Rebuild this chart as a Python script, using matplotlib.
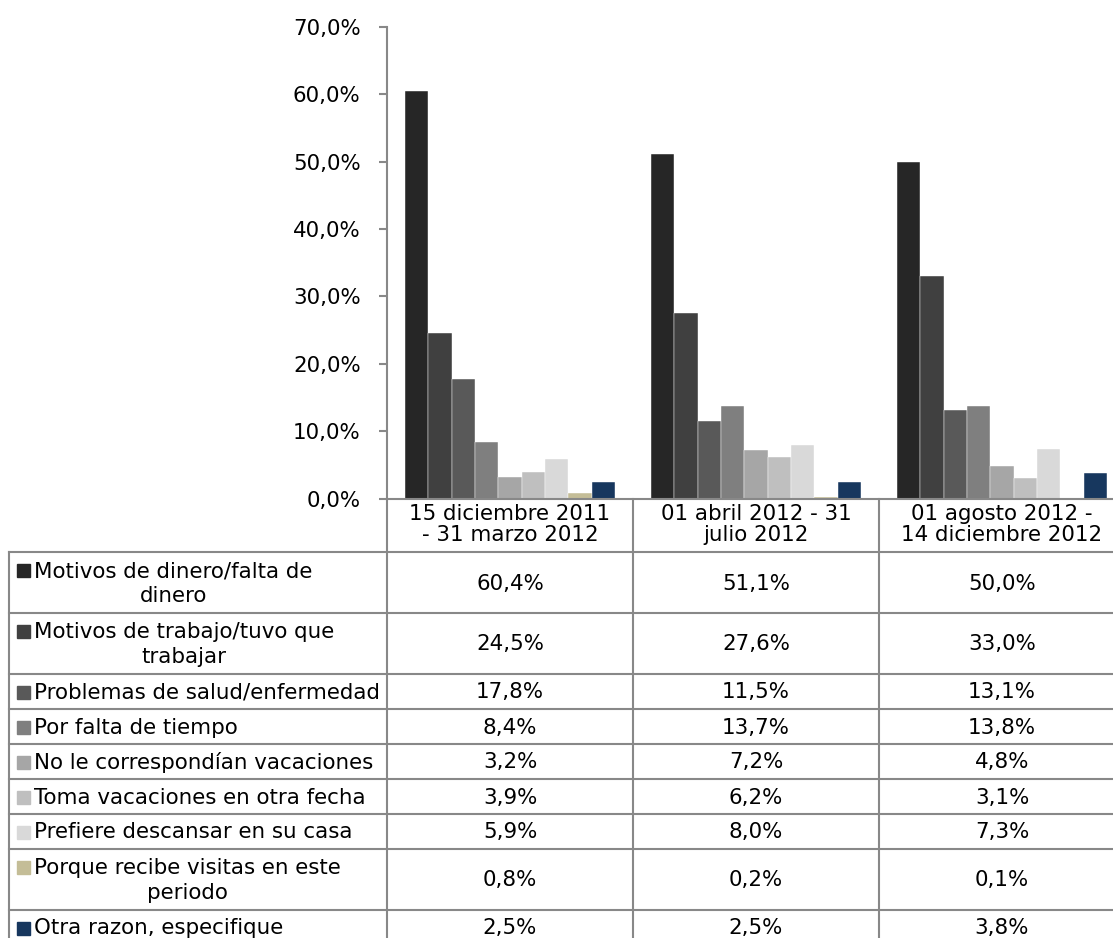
import matplotlib
matplotlib.use("Agg")
import matplotlib.pyplot as plt
from matplotlib.patches import Rectangle
from matplotlib.lines import Line2D

plt.rcParams['font.family'] = ['DejaVu Sans']

categories = ["15 diciembre 2011\n- 31 marzo 2012",
              "01 abril 2012 - 31\njulio 2012",
              "01 agosto 2012 -\n14 diciembre 2012"]
series_labels = ["Motivos de dinero/falta de\ndinero",
                 "Motivos de trabajo/tuvo que\ntrabajar",
                 "Problemas de salud/enfermedad",
                 "Por falta de tiempo",
                 "No le correspondían vacaciones",
                 "Toma vacaciones en otra fecha",
                 "Prefiere descansar en su casa",
                 "Porque recibe visitas en este\nperiodo",
                 "Otra razon, especifique"]
dinero = [60.4, 51.1, 50.0]
trabajo = [24.5, 27.6, 33.0]
salud = [17.8, 11.5, 13.1]
tiempo = [8.4, 13.7, 13.8]
no_corresp = [3.2, 7.2, 4.8]
otra_fecha = [3.9, 6.2, 3.1]
descansar = [5.9, 8.0, 7.3]
visitas = [0.8, 0.2, 0.1]
otra_razon = [2.5, 2.5, 3.8]
series_values = [dinero, trabajo, salud, tiempo, no_corresp, otra_fecha,
                 descansar, visitas, otra_razon]
colors = ["#262626", "#404040", "#595959", "#7f7f7f", "#a6a6a6",
          "#bfbfbf", "#d9d9d9", "#c4bd97", "#17375e"]
yticks = [0, 10, 20, 30, 40, 50, 60, 70]

W, H = 1113, 938
fig = plt.figure(figsize=(W / 100, H / 100), dpi=100)

# pixel geometry
ax_left, ax_right = 387, 1125
ax_top, ax_bottom = 26.7, 498.7
grid_col = "#888888"
lw = 1.5
fs = 15.4

# background axes in pixel coordinates for the data table
bg = fig.add_axes([0, 0, 1, 1])
bg.set_xlim(0, W)
bg.set_ylim(H, 0)
bg.axis("off")

ax = fig.add_axes([ax_left / W, (H - ax_bottom) / H,
                   (ax_right - ax_left) / W, (ax_bottom - ax_top) / H])
n = len(series_values)
ncat = len(categories)
bw = 1.0 / (n + 1.55)
for j, (vals, c) in enumerate(zip(series_values, colors)):
    xs = [i + (j - (n - 1) / 2) * bw for i in range(ncat)]
    ax.bar(xs, vals, width=bw, color=c, edgecolor="#ffffff", linewidth=0.3)
ax.set_xlim(-0.5, ncat - 0.5)
ax.set_ylim(0, 70)
ax.set_yticks(yticks)
ax.set_yticklabels([f"{v:.1f}%".replace(".", ",") for v in yticks], fontsize=fs)
ax.tick_params(axis="y", direction="out", length=6, width=lw, color=grid_col, pad=13)
ax.set_xticks([])
for s in ["top", "right"]:
    ax.spines[s].set_visible(False)
for s in ["left", "bottom"]:
    ax.spines[s].set_color(grid_col)
    ax.spines[s].set_linewidth(lw)
ax.patch.set_alpha(0)

# table geometry
col_w = (ax_right - ax_left) / ncat
col_edges = [ax_left + i * col_w for i in range(ncat + 1)]
table_left = 9
header_bottom = 552
row_heights = [35 + 26 * (lab.count("\n")) for lab in series_labels]
row_edges = [header_bottom]
for h in row_heights:
    row_edges.append(row_edges[-1] + h)

# header cells
for i, cat in enumerate(categories):
    cx = (col_edges[i] + col_edges[i + 1]) / 2
    bg.text(cx, (ax_bottom + header_bottom) / 2 - 1, cat, ha="center", va="center",
            fontsize=fs, multialignment="center", linespacing=1.05, color="#000000")

# lines
for y in row_edges:
    bg.add_line(Line2D([table_left, ax_right], [y, y], color=grid_col, lw=lw))
bg.add_line(Line2D([table_left, table_left], [header_bottom, row_edges[-1]], color=grid_col, lw=lw))
for x in col_edges:
    bg.add_line(Line2D([x, x], [ax_bottom, row_edges[-1]], color=grid_col, lw=lw))

# rows
for r, (lab, vals, c) in enumerate(zip(series_labels, series_values, colors)):
    y0, y1 = row_edges[r], row_edges[r + 1]
    cy = (y0 + y1) / 2
    nl = lab.count("\n") + 1
    first_line_y = cy + 1 - (nl - 1) * 12.5
    bg.add_patch(Rectangle((17, first_line_y - 6.5), 13, 13, color=c))
    bg.text(34, cy + 1, lab, ha="left", va="center", fontsize=fs,
            multialignment="center", linespacing=1.3, color="#000000")
    for i, v in enumerate(vals):
        cx = (col_edges[i] + col_edges[i + 1]) / 2
        bg.text(cx, cy + 1, f"{v:.1f}%".replace(".", ","), ha="center", va="center",
                fontsize=fs, color="#000000")

fig.savefig("out.png", dpi=100)
